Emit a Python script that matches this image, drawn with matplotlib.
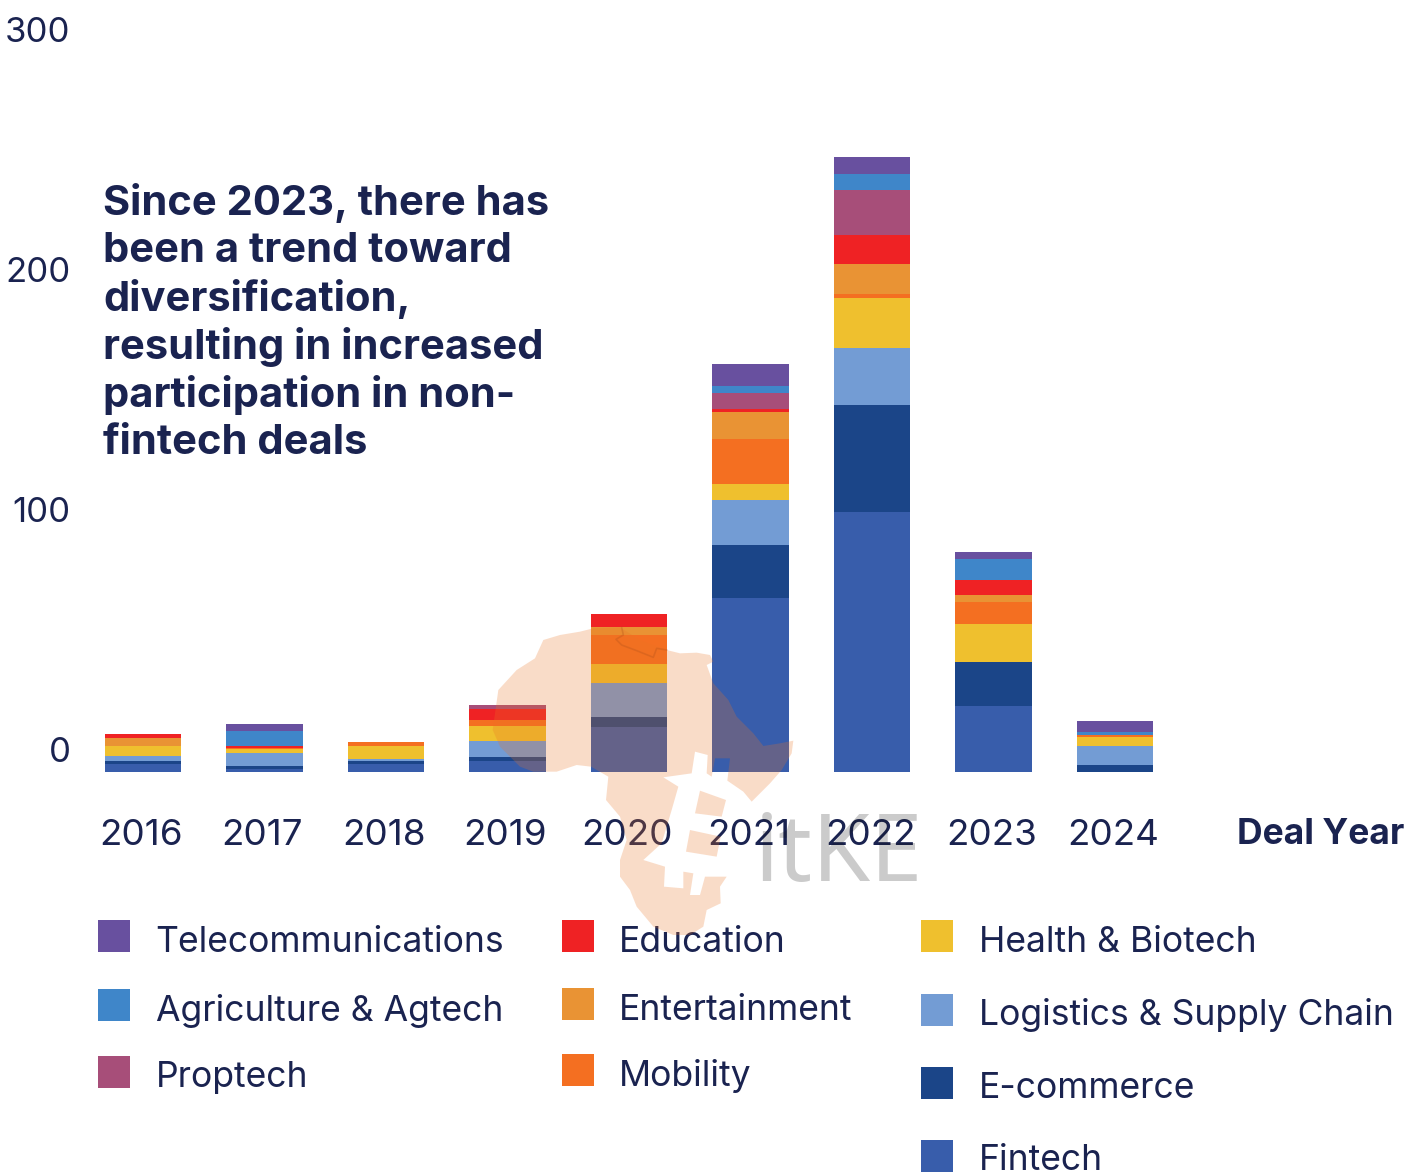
import matplotlib
matplotlib.use("Agg")
import matplotlib.pyplot as plt
from matplotlib.lines import Line2D
from matplotlib.patches import Rectangle, PathPatch
from matplotlib.path import Path
from matplotlib.transforms import Affine2D, ScaledTranslation
import numpy as np

years = ["2016", "2017", "2018", "2019", "2020", "2021", "2022", "2023", "2024"]
fintech = [3.33, 1.25, 3.33, 4.58, 18.75, 72.5, 108.33, 27.5, 0]
ecommerce = [1.25, 1.25, 1.25, 1.67, 4.17, 22.08, 44.58, 18.33, 2.92]
logistics = [2.08, 5.42, 0.83, 6.67, 14.17, 18.75, 23.75, 0, 7.92]
health = [4.17, 1.67, 5.42, 6.25, 7.92, 6.67, 20.83, 15.83, 3.75]
mobility = [0, 0.42, 1.67, 2.5, 12.08, 18.75, 1.67, 9.17, 0.83]
entertainment = [3.33, 0, 0, 0, 3.33, 11.25, 12.5, 2.92, 0]
education = [1.67, 0.83, 0, 4.58, 5.42, 1.25, 12.08, 6.25, 0]
proptech = [0, 0, 0, 1.67, 0, 6.67, 18.75, 0, 0]
agriculture = [0, 6.25, 0, 0, 0, 2.92, 6.67, 8.75, 1.25]
telecom = [0, 2.92, 0, 0, 0, 9.17, 7.08, 2.92, 4.58]

series = [fintech, ecommerce, logistics, health, mobility,
          entertainment, education, proptech, agriculture, telecom]
colors = ["#385dab", "#1b4588", "#739cd4", "#efc02e", "#f46f21",
          "#e99334", "#ef2224", "#a74e79", "#3f86c9", "#68509f"]
yticks = [0, 100, 200, 300]
title_lines = ["Since 2023, there has", "been a trend toward", "diversification,",
               "resulting in increased", "participation in non-", "fintech deals"]

legend_items = [
    ("Telecommunications", "#68509f", 98, 936, 155, 942),
    ("Agriculture & Agtech", "#3f86c9", 98, 1005, 156, 1011),
    ("Proptech", "#a74e79", 98, 1072, 156, 1078),
    ("Education", "#ef2224", 562, 936, 619, 942),
    ("Entertainment", "#e99334", 562, 1004, 619, 1010),
    ("Mobility", "#f46f21", 562, 1070, 619, 1076),
    ("Health & Biotech", "#efc02e", 921, 936, 979, 942),
    ("Logistics & Supply Chain", "#739cd4", 921, 1010, 979, 1015),
    ("E-commerce", "#1b4588", 921, 1083, 979, 1088),
    ("Fintech", "#385dab", 921, 1156, 979, 1160),
]

W, H = 1406, 1172
NAVY = "#1a2350"
plt.rcParams["font.family"] = "Inter"

fig = plt.figure(figsize=(W / 100, H / 100), dpi=100)
ax = fig.add_axes([90 / W, 1 - 772 / H, (1230 - 90) / W, 720 / H])

xs = np.arange(len(years))
bottom = np.zeros(len(years))
for vals, col in zip(series, colors):
    ax.bar(xs, vals, width=0.63, bottom=bottom, color=col, linewidth=0)
    bottom += np.array(vals)

ax.set_xlim(-53 / 121.5, (1230 - 143) / 121.5)
ax.set_ylim(0, 300)
ax.set_xticks(xs)
ax.set_xticklabels(years)
ax.set_yticks(yticks)
ax.tick_params(axis="y", length=0, labelsize=25, labelcolor=NAVY, pad=14)
ax.tick_params(axis="x", length=0, labelsize=26.5, labelcolor=NAVY, pad=33.5)
for s in ax.spines.values():
    s.set_visible(False)

# y labels sit above the real tick position in the original
for lab in ax.get_yticklabels():
    lab.set_transform(lab.get_transform() + ScaledTranslation(0, 23 / 100, fig.dpi_scale_trans))
for lab in ax.get_xticklabels():
    lab.set_transform(lab.get_transform() + ScaledTranslation(-2 / 100, 0, fig.dpi_scale_trans))


def put(x, y, s, **kw):
    fig.text(x / W, 1 - y / H, s, color=NAVY, va="center", **kw)


for i, line in enumerate(title_lines):
    put(103, 203 + 48 * i, line, fontsize=30, fontweight="bold")
put(1404, 835, "Deal Year", fontsize=25.5, fontweight="bold", ha="right")

for name, col, bx, by, tx, ty in legend_items:
    fig.add_artist(Rectangle((bx / W, 1 - (by + 16) / H), 32 / W, 32 / H,
                             transform=fig.transFigure, color=col, linewidth=0))
    put(tx, ty, name, fontsize=25.6)

# watermark: outline traced in pixels of a 3x crop starting at (480, 620)
north = [(190, 60), (240, 45), (300, 35), (340, 25), (420, 22), (480, 60), (560, 90), (600, 100),
         (650, 98), (690, 105), (700, 125), (680, 135), (700, 190), (745, 240), (770, 290),
         (820, 340), (850, 378), (900, 370), (940, 362), (935, 400), (905, 450), (870, 490),
         (815, 545), (790, 515), (742, 482), (750, 415), (705, 415), (695, 470), (680, 460),
         (683, 405), (645, 395), (635, 460), (550, 472), (595, 500), (575, 570), (545, 670),
         (490, 720), (555, 740), (552, 800), (610, 805), (610, 755), (640, 760), (630, 825),
         (660, 825), (675, 770), (740, 770), (720, 800), (722, 850), (680, 870), (670, 920),
         (630, 945), (580, 945), (520, 920), (470, 860), (450, 810), (420, 770), (420, 720),
         (440, 660), (420, 590), (378, 540), (385, 470), (333, 440), (290, 435), (230, 455),
         (160, 455), (120, 440), (60, 380), (38, 330), (55, 210), (110, 150), (165, 115)]
counter_top = [(660, 512), (738, 540), (725, 590), (645, 580)]
counter_low = [(630, 630), (722, 650), (710, 710), (618, 695)]
border = [(425, 22), (430, 45), (408, 58), (425, 75), (470, 92), (520, 112), (530, 85), (560, 90)]

verts, codes = [], []
for poly in (north, counter_top, counter_low):
    verts += poly + [poly[0]]
    codes += [Path.MOVETO] + [Path.LINETO] * (len(poly) - 1) + [Path.CLOSEPOLY]
to_fig = (Affine2D().scale(1 / 3).translate(480, 620).scale(1 / W, -1 / H).translate(0, 1)
          + fig.transFigure)
fig.add_artist(PathPatch(Path(verts, codes), transform=to_fig, facecolor="#eb7424",
                         edgecolor="none", alpha=0.25, zorder=10))
fig.add_artist(Line2D([p[0] for p in border], [p[1] for p in border], transform=to_fig,
                      color="#b0501a", alpha=0.3, linewidth=1.2, zorder=10))
fig.text(755 / W, 1 - 881 / H, "itKE", fontsize=67.5, color="#141414", alpha=0.22,
         family="Noto Sans", va="baseline", zorder=10)

fig.savefig("out.png", dpi=100)
